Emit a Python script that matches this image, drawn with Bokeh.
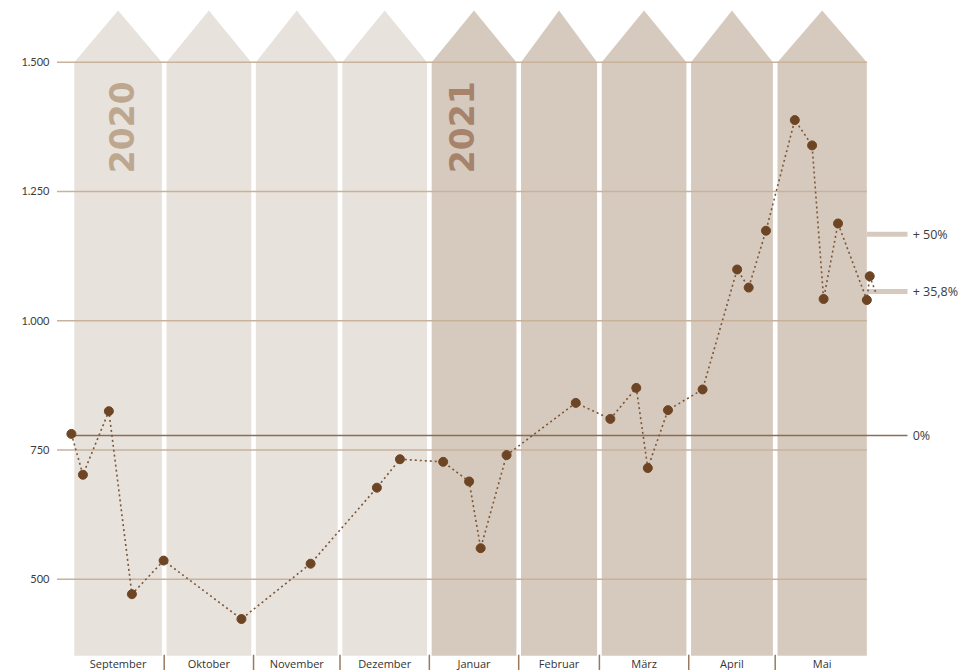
import math
import pandas as pd
from bokeh.plotting import figure
from bokeh.models import ColumnDataSource, Range1d
from bokeh.core.properties import value
from bokeh.embed import file_html
from bokeh.resources import INLINE

# ---------------- data ----------------
dates = ["2020-08-29", "2020-09-02", "2020-09-11", "2020-09-19", "2020-09-30",
         "2020-10-27", "2020-11-20", "2020-12-13", "2020-12-21", "2021-01-05",
         "2021-01-14", "2021-01-18", "2021-01-27", "2021-02-20", "2021-03-04",
         "2021-03-13", "2021-03-17", "2021-03-24", "2021-04-05", "2021-04-17",
         "2021-04-21", "2021-04-27", "2021-05-07", "2021-05-13", "2021-05-17",
         "2021-05-22", "2021-06-01", "2021-06-02", "2021-06-04"]
values = [781, 702, 825, 471, 536, 423, 530, 677, 732, 727, 689, 560, 740,
          841, 810, 870, 715, 827, 867, 1099, 1064, 1174, 1388, 1339, 1042,
          1188, 1040, 1086, 1056]

months = ["September", "Oktober", "November", "Dezember", "Januar",
          "Februar", "März", "April", "Mai"]
month_bounds = ["2020-08-30", "2020-10-01", "2020-11-01", "2020-12-01",
                "2021-01-01", "2021-02-01", "2021-03-01", "2021-04-01",
                "2021-05-01", "2021-06-01"]
month_year = [2020, 2020, 2020, 2020, 2021, 2021, 2021, 2021, 2021]

years = ["2020", "2021"]
year_anchor = ["2020-09-15 10:00", "2021-01-11 12:00"]

y_ticks = [500, 750, 1000, 1250, 1500]
y_tick_labels = ["500", "750", "1.000", "1.250", "1.500"]

ref_base = 778
ref_pcts = [0.0, 0.5, 0.358]
ref_labels = ["0%", "+ 50%", "+ 35,8%"]

# ---------------- helpers ----------------
ORIGIN = pd.Timestamp("2020-10-01")


def day(s):
    return (pd.Timestamp(s) - ORIGIN) / pd.Timedelta(days=1)


xd = [day(d) for d in dates]
bounds = [day(b) for b in month_bounds]

GAP = 1.6
COL_BOTTOM = 352
COL_TOP = 1500
PEAK = 1600

p = figure(width=975, height=670, output_backend="svg", toolbar_location=None,
           x_range=Range1d(-57.6, 280.7), y_range=Range1d(323.4, 1619.3),
           min_border=0, min_border_left=0, min_border_right=0,
           min_border_top=0, min_border_bottom=0)
p.axis.visible = False
p.grid.visible = False
p.outline_line_color = None
p.background_fill_color = "white"
p.border_fill_color = "white"

# columns with arrow tops
xs, ys, cols, centers = [], [], [], []
n = len(months)
for i in range(n):
    x0 = bounds[i]
    x1 = bounds[i + 1] - (GAP if i < n - 1 else 0)
    xm = (x0 + x1) / 2
    centers.append(xm)
    xs.append([x0, x0, xm, x1, x1])
    ys.append([COL_BOTTOM, COL_TOP, PEAK, COL_TOP, COL_BOTTOM])
    cols.append("#e8e2dc" if month_year[i] == 2020 else "#d6cabe")
p.patches(xs, ys, fill_color=cols, line_color=None)

right_end = bounds[-1]
left_start = -38.0

# gridlines
p.segment(x0=[left_start] * len(y_ticks), x1=[right_end] * len(y_ticks),
          y0=y_ticks, y1=y_ticks, line_color="#c9b29c", line_width=1.5)

# y tick labels
p.text(x=[-40.6] * len(y_ticks), y=y_ticks, text=y_tick_labels,
       text_font=value("Lato"), text_font_size="11px", text_color="#3c3c3c",
       text_align="right", text_baseline="middle")

# year labels
p.text(x=[day(a) for a in year_anchor], y=[1374, 1374], text=years,
       angle=math.pi / 2, text_font=value("DejaVu Sans"),
       text_font_style="bold", text_font_size="33px",
       text_color=["#bda78f", "#a6836a"], text_align="center",
       text_baseline="middle")

# month labels and separators
p.text(x=centers, y=[337] * n, text=months, text_font=value("Open Sans"),
       text_font_size="11px", text_color="#333333", text_align="center",
       text_baseline="middle")
seps = [bounds[i] - GAP / 2 for i in range(1, n)]
p.segment(x0=seps, x1=seps, y0=[354] * len(seps), y1=[300] * len(seps),
          line_color="#9a7a5e", line_width=1.5)

# reference lines
ref_vals = [ref_base * (1 + q) for q in ref_pcts]
bar_x0 = right_end
bar_x1 = 257.1
p.segment(x0=[bar_x0, bar_x0], x1=[bar_x1, bar_x1], y0=ref_vals[1:],
          y1=ref_vals[1:], line_color="#d6cabe", line_width=5)
p.segment(x0=[xd[0]], x1=[bar_x1], y0=[ref_vals[0]], y1=[ref_vals[0]],
          line_color="#8c6d52", line_width=1.5)
p.text(x=[258.9] * 3, y=ref_vals, text=ref_labels, text_font=value("Open Sans"),
       text_font_size="12.5px", text_color="#3c3c3c", text_align="left",
       text_baseline="middle")

# series
src = ColumnDataSource(dict(x=xd, y=values))
p.line("x", "y", source=src, line_color="#7b5637", line_width=1.6,
       line_dash="2 3")
msrc = ColumnDataSource(dict(x=xd[:-1], y=values[:-1]))
p.scatter("x", "y", source=msrc, size=9, fill_color="#6e4524",
          line_color="#6e4524")

open("out.html", "w").write(file_html(p, INLINE))
